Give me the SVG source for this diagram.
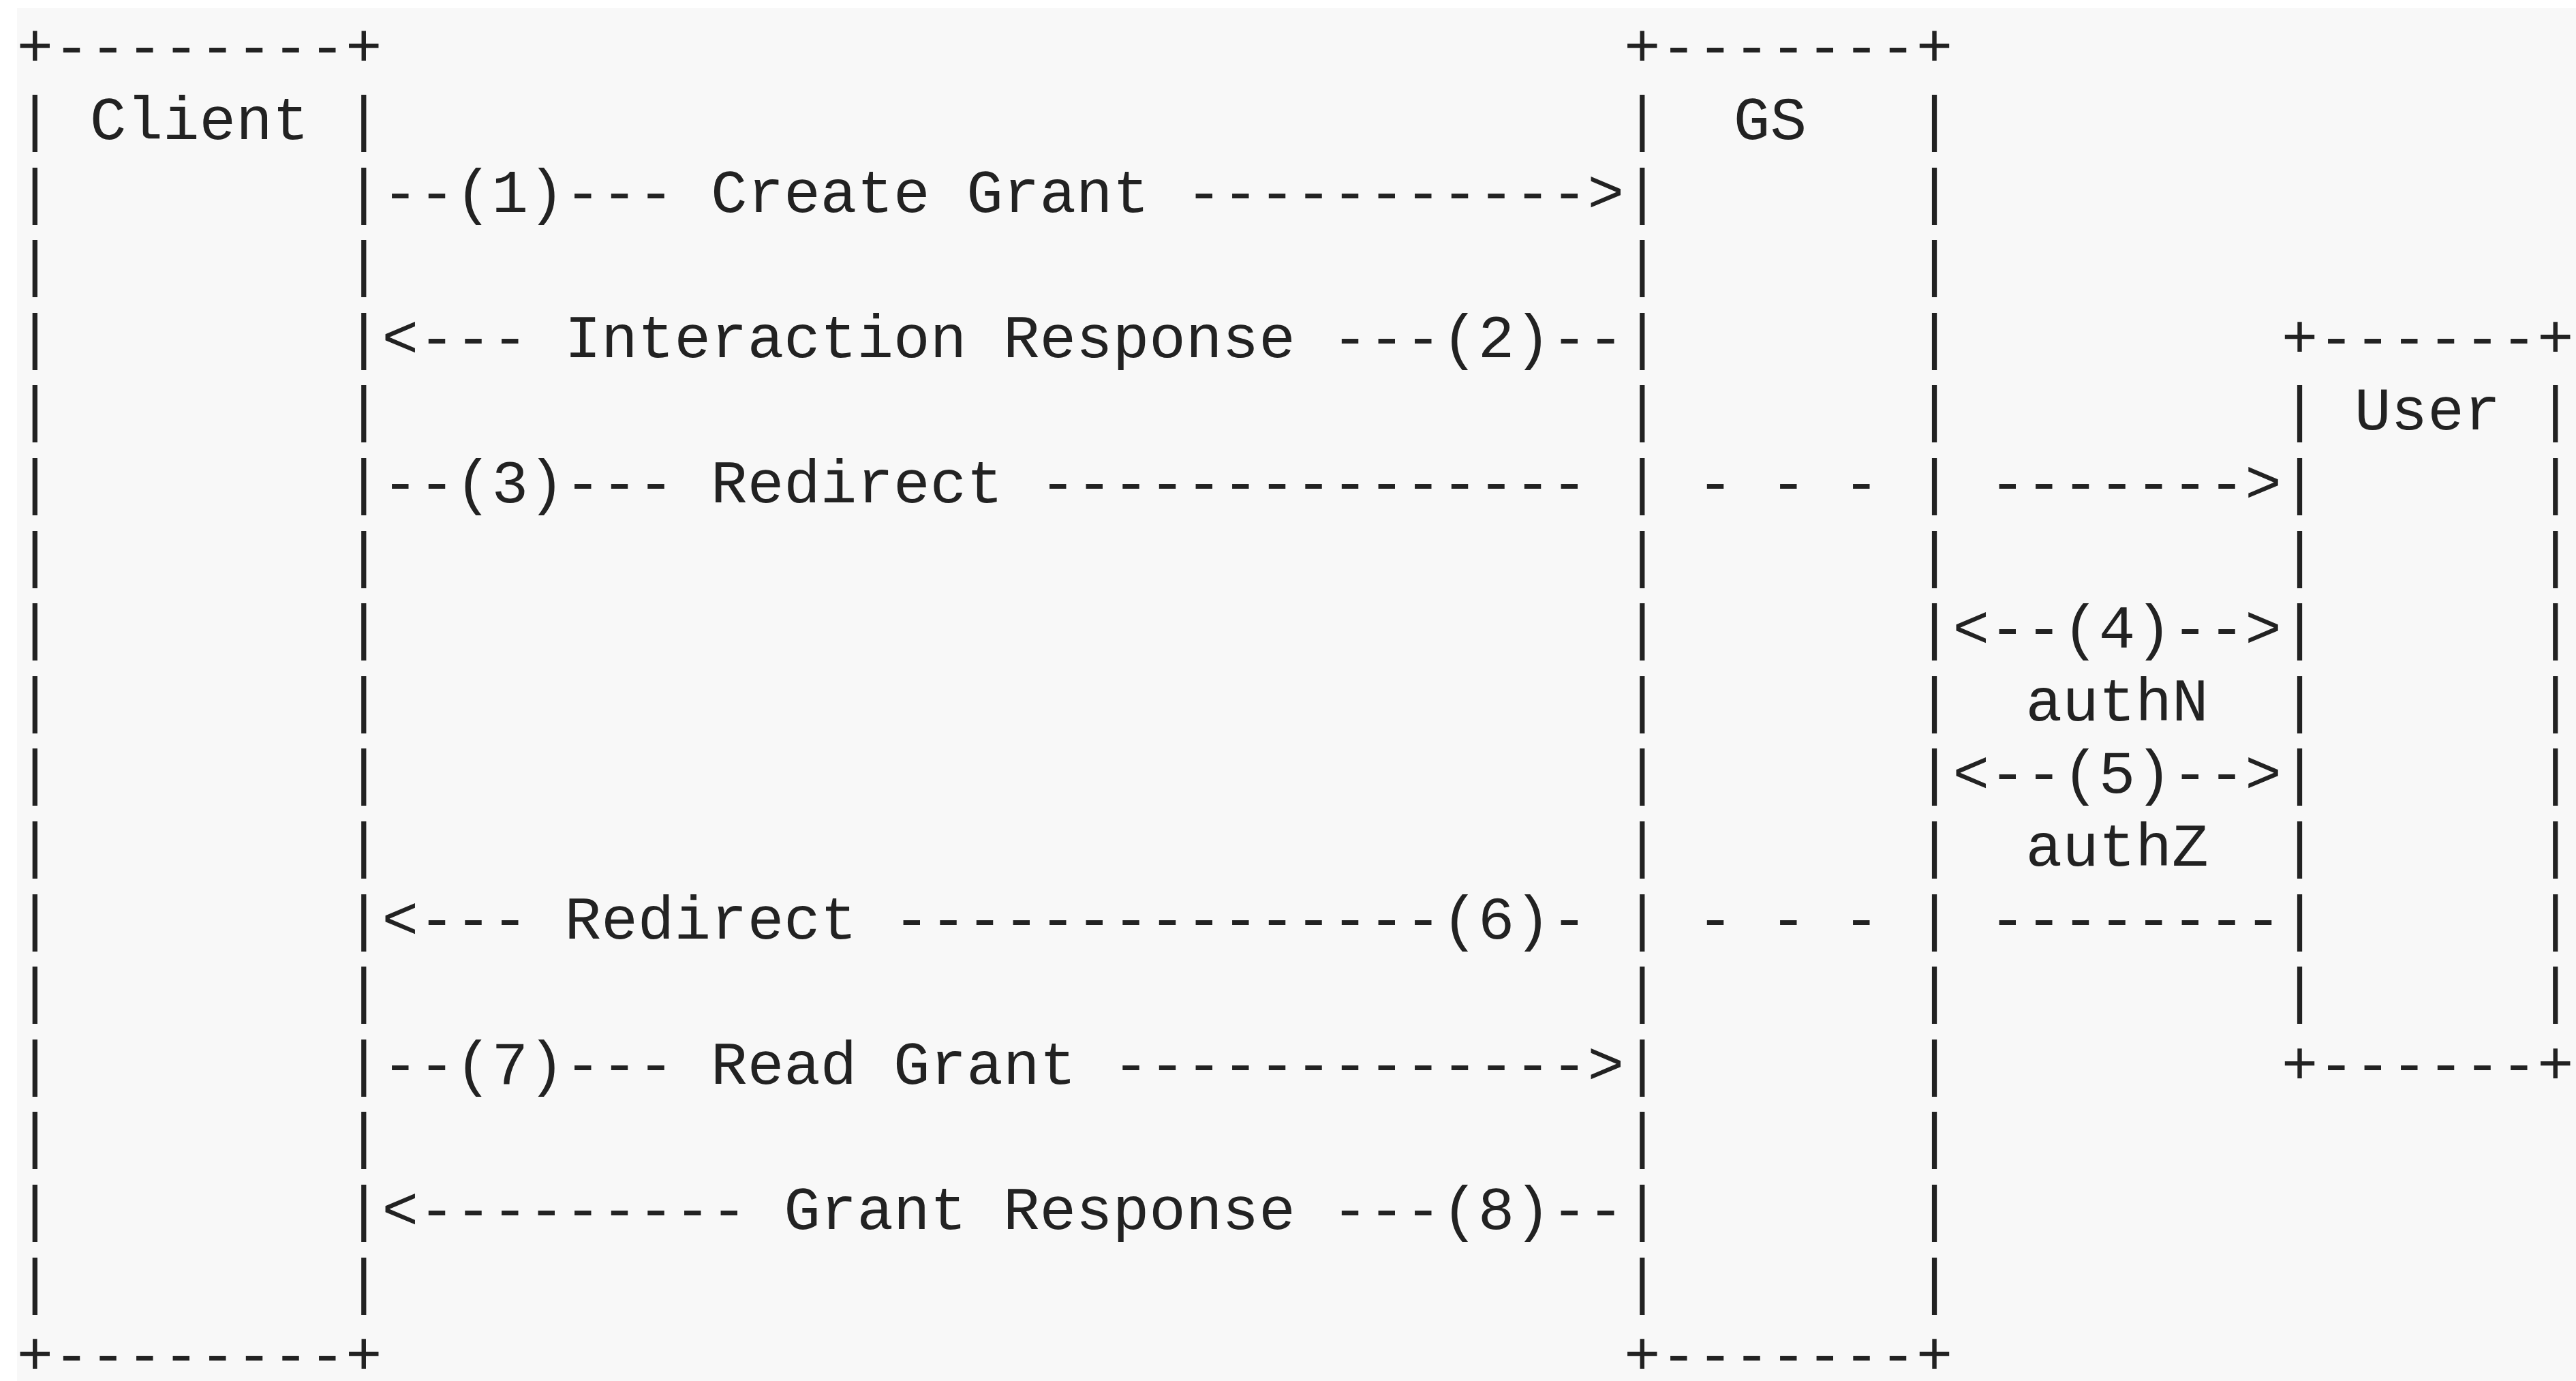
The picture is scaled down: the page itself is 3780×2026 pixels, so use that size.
<svg xmlns="http://www.w3.org/2000/svg" width="3780" height="2026" viewBox="0 0 3780 2026">
<style>
.t{font-family:"Liberation Mono","DejaVu Sans Mono",monospace;font-size:89.33px;fill:#222;white-space:pre}
</style>
<rect x="0" y="0" width="3780" height="2026" fill="#ffffff"/>
<rect x="25" y="12" width="3755" height="2014" fill="#f8f8f8"/>
<g id="client">
<text class="t"><tspan x="24.6" y="97.4">+--------+</tspan><tspan x="24.6" y="2016.2">+--------+</tspan></text>
<text class="t"><tspan x="24.6" y="204">|</tspan><tspan x="131.8" y="204">Client</tspan><tspan x="507" y="204">|</tspan></text>
<text class="t"><tspan x="24.6" y="310.6">|</tspan><tspan x="24.6" y="417.2">|</tspan><tspan x="24.6" y="523.8">|</tspan><tspan x="24.6" y="630.4">|</tspan><tspan x="24.6" y="737">|</tspan><tspan x="24.6" y="843.6">|</tspan><tspan x="24.6" y="950.2">|</tspan><tspan x="24.6" y="1056.8">|</tspan><tspan x="24.6" y="1163.4">|</tspan><tspan x="24.6" y="1270">|</tspan><tspan x="24.6" y="1376.6">|</tspan><tspan x="24.6" y="1483.2">|</tspan><tspan x="24.6" y="1589.8">|</tspan><tspan x="24.6" y="1696.4">|</tspan><tspan x="24.6" y="1803">|</tspan><tspan x="24.6" y="1909.6">|</tspan></text>
<text class="t"><tspan x="507" y="310.6">|</tspan><tspan x="507" y="417.2">|</tspan><tspan x="507" y="523.8">|</tspan><tspan x="507" y="630.4">|</tspan><tspan x="507" y="737">|</tspan><tspan x="507" y="843.6">|</tspan><tspan x="507" y="950.2">|</tspan><tspan x="507" y="1056.8">|</tspan><tspan x="507" y="1163.4">|</tspan><tspan x="507" y="1270">|</tspan><tspan x="507" y="1376.6">|</tspan><tspan x="507" y="1483.2">|</tspan><tspan x="507" y="1589.8">|</tspan><tspan x="507" y="1696.4">|</tspan><tspan x="507" y="1803">|</tspan><tspan x="507" y="1909.6">|</tspan></text>
</g>
<g id="gs">
<text class="t"><tspan x="2383" y="97.4">+-------+</tspan><tspan x="2383" y="2016.2">+-------+</tspan></text>
<text class="t"><tspan x="2383" y="204">|</tspan><tspan x="2543.8" y="204">GS</tspan><tspan x="2811.8" y="204">|</tspan></text>
<text class="t"><tspan x="2383" y="310.6">|</tspan><tspan x="2383" y="417.2">|</tspan><tspan x="2383" y="523.8">|</tspan><tspan x="2383" y="630.4">|</tspan><tspan x="2383" y="737">|</tspan><tspan x="2383" y="843.6">|</tspan><tspan x="2383" y="950.2">|</tspan><tspan x="2383" y="1056.8">|</tspan><tspan x="2383" y="1163.4">|</tspan><tspan x="2383" y="1270">|</tspan><tspan x="2383" y="1376.6">|</tspan><tspan x="2383" y="1483.2">|</tspan><tspan x="2383" y="1589.8">|</tspan><tspan x="2383" y="1696.4">|</tspan><tspan x="2383" y="1803">|</tspan><tspan x="2383" y="1909.6">|</tspan></text>
<text class="t"><tspan x="2811.8" y="310.6">|</tspan><tspan x="2811.8" y="417.2">|</tspan><tspan x="2811.8" y="523.8">|</tspan><tspan x="2811.8" y="630.4">|</tspan><tspan x="2811.8" y="737">|</tspan><tspan x="2811.8" y="843.6">|</tspan><tspan x="2811.8" y="950.2">|</tspan><tspan x="2811.8" y="1056.8">|</tspan><tspan x="2811.8" y="1163.4">|</tspan><tspan x="2811.8" y="1270">|</tspan><tspan x="2811.8" y="1376.6">|</tspan><tspan x="2811.8" y="1483.2">|</tspan><tspan x="2811.8" y="1589.8">|</tspan><tspan x="2811.8" y="1696.4">|</tspan><tspan x="2811.8" y="1803">|</tspan><tspan x="2811.8" y="1909.6">|</tspan></text>
</g>
<g id="user">
<text class="t"><tspan x="3347.8" y="523.8">+------+</tspan><tspan x="3347.8" y="1589.8">+------+</tspan></text>
<text class="t"><tspan x="3347.8" y="630.4">|</tspan><tspan x="3455" y="630.4">User</tspan><tspan x="3723" y="630.4">|</tspan></text>
<text class="t"><tspan x="3347.8" y="737">|</tspan><tspan x="3347.8" y="843.6">|</tspan><tspan x="3347.8" y="950.2">|</tspan><tspan x="3347.8" y="1056.8">|</tspan><tspan x="3347.8" y="1163.4">|</tspan><tspan x="3347.8" y="1270">|</tspan><tspan x="3347.8" y="1376.6">|</tspan><tspan x="3347.8" y="1483.2">|</tspan></text>
<text class="t"><tspan x="3723" y="737">|</tspan><tspan x="3723" y="843.6">|</tspan><tspan x="3723" y="950.2">|</tspan><tspan x="3723" y="1056.8">|</tspan><tspan x="3723" y="1163.4">|</tspan><tspan x="3723" y="1270">|</tspan><tspan x="3723" y="1376.6">|</tspan><tspan x="3723" y="1483.2">|</tspan></text>
</g>
<g id="connectors">
<text class="t" xml:space="preserve" x="560.6" y="310.6">--(1)--- Create Grant -----------&gt;</text>
<text class="t" xml:space="preserve" x="560.6" y="523.8">&lt;--- Interaction Response ---(2)--</text>
<text class="t" xml:space="preserve" x="560.6" y="737">--(3)--- Redirect ---------------</text>
<text class="t" xml:space="preserve" x="2490.2" y="737">- - -</text>
<text class="t" xml:space="preserve" x="2919" y="737">-------&gt;</text>
<text class="t" xml:space="preserve" x="2865.4" y="950.2">&lt;--(4)--&gt;</text>
<text class="t" x="2972.6" y="1056.8">authN</text>
<text class="t" xml:space="preserve" x="2865.4" y="1163.4">&lt;--(5)--&gt;</text>
<text class="t" x="2972.6" y="1270">authZ</text>
<text class="t" xml:space="preserve" x="560.6" y="1376.6">&lt;--- Redirect ---------------(6)-</text>
<text class="t" xml:space="preserve" x="2490.2" y="1376.6">- - -</text>
<text class="t" xml:space="preserve" x="2919" y="1376.6">--------</text>
<text class="t" xml:space="preserve" x="560.6" y="1589.8">--(7)--- Read Grant -------------&gt;</text>
<text class="t" xml:space="preserve" x="560.6" y="1803">&lt;--------- Grant Response ---(8)--</text>
</g>
</svg>
